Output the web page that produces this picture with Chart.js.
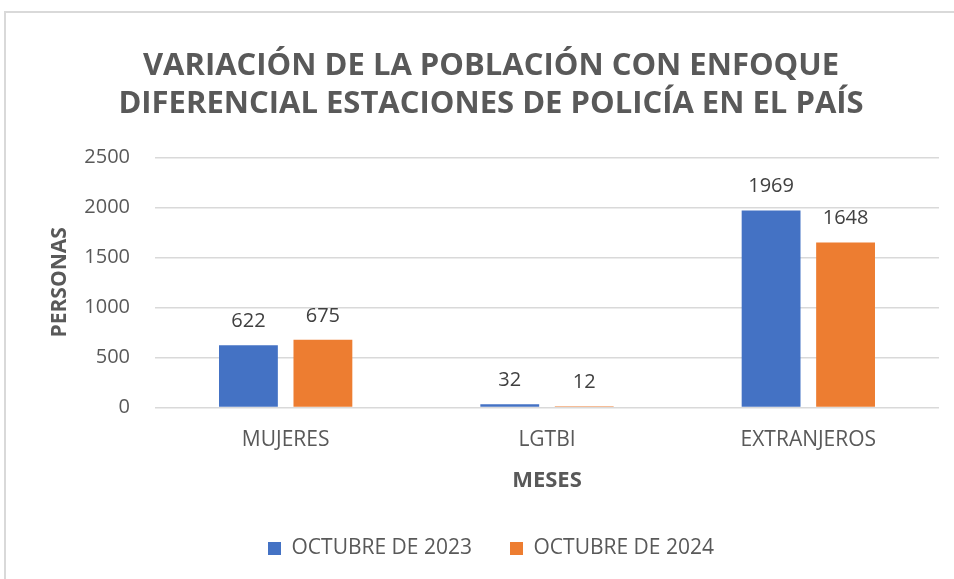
<!DOCTYPE html>
<html><head><meta charset="utf-8">
<script src="https://cdn.jsdelivr.net/npm/chart.js@4"></script>
<style>
html,body{margin:0;padding:0;background:#fff;}
#wrap{position:relative;width:954px;height:579px;}
#frame{position:absolute;left:4px;top:11px;right:-2px;bottom:-2px;border-left:2px solid #d9d9d9;border-top:2px solid #d9d9d9;}
canvas{position:absolute;left:0;top:0;}
</style></head>
<body><div id="wrap"><div id="frame"></div><canvas id="c" width="954" height="579"></canvas></div>
<script>
const categories = ['MUJERES', 'LGTBI', 'EXTRANJEROS'];
const seriesNames = ['OCTUBRE DE 2023', 'OCTUBRE DE 2024'];
const values2023 = [622, 32, 1969];
const values2024 = [675, 12, 1648];
const titleLines = ['VARIACIÓN DE LA POBLACIÓN CON ENFOQUE', 'DIFERENCIAL ESTACIONES DE POLICÍA EN EL PAÍS'];
const yTitle = 'PERSONAS';
const xTitle = 'MESES';

const FONT = "'Open Sans', 'Noto Sans', sans-serif";
const grey = '#595959';

const labelPlugin = {
  id: 'barLabels',
  afterDatasetsDraw(chart) {
    const ctx = chart.ctx;
    ctx.save();
    ctx.font = '20px ' + FONT;
    ctx.fillStyle = '#404040';
    ctx.textAlign = 'center';
    ctx.textBaseline = 'bottom';
    chart.data.datasets.forEach((ds, i) => {
      const meta = chart.getDatasetMeta(i);
      meta.data.forEach((bar, j) => {
        ctx.fillText(String(ds.data[j]), bar.x, bar.y - 14);
      });
    });
    ctx.restore();
  }
};

new Chart(document.getElementById('c'), {
  type: 'bar',
  data: {
    labels: categories,
    datasets: [
      { label: seriesNames[0], data: values2023, backgroundColor: '#4472c4', categoryPercentage: 0.57, barPercentage: 0.79 },
      { label: seriesNames[1], data: values2024, backgroundColor: '#ed7d31', categoryPercentage: 0.57, barPercentage: 0.79 }
    ]
  },
  options: {
    responsive: false,
    animation: false,
    layout: { padding: { left: 43, right: 15, top: 30, bottom: 10 } },
    plugins: {
      title: {
        display: true,
        text: titleLines,
        color: grey,
        font: { family: FONT, size: 31, weight: 'bold', lineHeight: 1.23 },
        padding: { top: 17, bottom: 34 }
      },
      legend: {
        position: 'bottom',
        labels: {
          color: grey,
          font: { family: FONT, size: 21 },
          boxWidth: 13, boxHeight: 13,
          padding: 38
        }
      },
      tooltip: { enabled: false }
    },
    scales: {
      x: {
        grid: { display: false },
        border: { display: false },
        ticks: { color: grey, font: { family: FONT, size: 21 }, padding: 12 },
        title: { display: true, text: xTitle, color: grey, font: { family: FONT, size: 22, weight: 'bold' }, padding: { top: 3, bottom: 6 } }
      },
      y: {
        min: 0, max: 2500,
        afterFit: s => { s.width = 112; },
        ticks: { stepSize: 500, color: grey, font: { family: FONT, size: 20 }, padding: 25, callback: v => String(v) },
        grid: { color: '#d9d9d9', lineWidth: 1.5, drawTicks: false },
        border: { display: false },
        title: { display: true, text: yTitle, color: grey, font: { family: FONT, size: 21, weight: 'bold' }, padding: { top: 4, bottom: 12 } }
      }
    }
  },
  plugins: [labelPlugin]
});
</script>
</body></html>
